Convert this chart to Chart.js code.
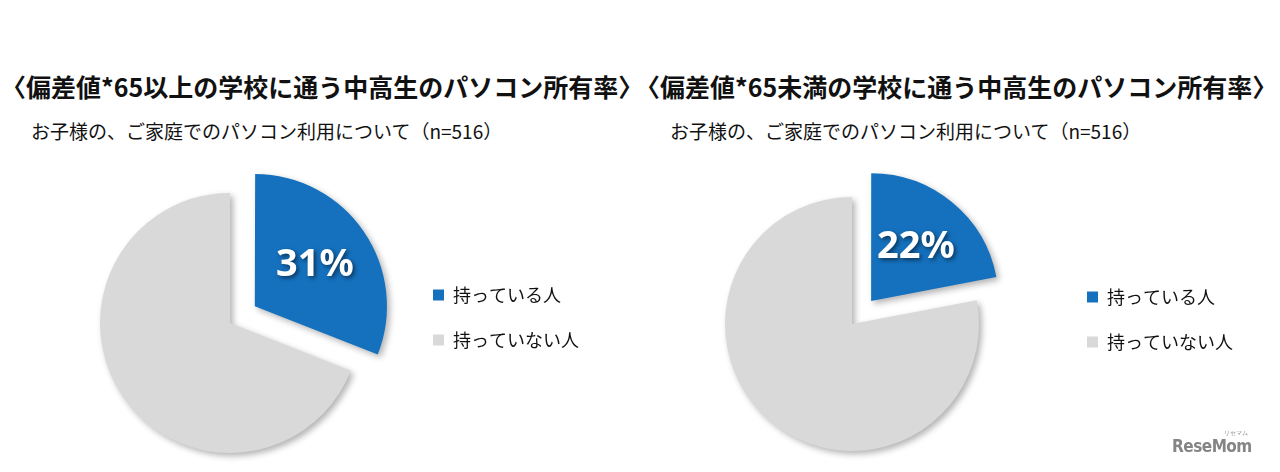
<!DOCTYPE html>
<html lang="ja">
<head>
<meta charset="utf-8">
<script src="https://cdn.jsdelivr.net/npm/chart.js@4"></script>
<style>
  html, body { margin: 0; padding: 0; background: #fff; }
  body { width: 1280px; height: 472px; position: relative; overflow: hidden; }
  .title {
    position: absolute; margin: 0; white-space: nowrap;
    font: bold 25px/30px "Noto Sans CJK JP", sans-serif; color: #111;
  }
  .sub {
    position: absolute; margin: 0; white-space: nowrap;
    font: 19px/24px "Noto Sans CJK JP", sans-serif; color: #111;
  }
  canvas { position: absolute; top: 150px; }
  .mark {
    position: absolute; left: 1172px; top: 436px;
    font: bold 17px "DejaVu Sans Condensed", sans-serif; color: #858585; letter-spacing: -0.5px;
  }
  .mark small { position: absolute; right: 4px; top: -7px; font-size: 6px; font-weight: normal; letter-spacing: 0; }
</style>
</head>
<body>
<h2 class="title" style="left:1px; top:71px">〈偏差値*65以上の学校に通う中高生のパソコン所有率〉</h2>
<p class="sub" style="left:31px; top:119px">お子様の、ご家庭でのパソコン利用について（n=516）</p>
<h2 class="title" style="left:635px; top:71px">〈偏差値*65未満の学校に通う中高生のパソコン所有率〉</h2>
<p class="sub" style="left:670px; top:119px">お子様の、ご家庭でのパソコン利用について（n=516）</p>

<canvas id="pcHigh" width="640" height="322" style="left:0"></canvas>
<canvas id="pcLow" width="640" height="322" style="left:640px"></canvas>

<div class="mark">ReseMom<small>リセマム</small></div>

<script>
const categories = ['持っている人', '持っていない人'];
const highShares = [31, 69];   // 偏差値65以上
const lowShares = [22, 78];    // 偏差値65未満
const sliceColors = ['#1571BE', '#D9D9D9'];

const legendFont = { family: '"Noto Sans CJK JP", sans-serif', size: 18 };
const legendBox = 11;
const legendGap = 27;

// soft drop shadow under the slices
const sliceShadow = {
    id: 'sliceShadow',
    beforeDatasetsDraw(chart) {
        const ctx = chart.ctx;
        ctx.save();
        ctx.shadowColor = 'rgba(0, 0, 0, 0.3)';
        ctx.shadowBlur = 6;
        ctx.shadowOffsetX = 3;
        ctx.shadowOffsetY = 3;
    },
    afterDatasetsDraw(chart) {
        chart.ctx.restore();
    }
};

// big white percentage on the pulled-out slice
const percentLabel = {
    id: 'percentLabel',
    afterDatasetsDraw(chart) {
        const ctx = chart.ctx;
        const arc = chart.getDatasetMeta(0).data[0];
        const value = chart.data.datasets[0].data[0];
        const mid = (arc.startAngle + arc.endAngle) / 2;
        const d = arc.outerRadius * 0.79;
        ctx.save();
        ctx.font = 'bold 38px "Noto Sans", sans-serif';
        ctx.fillStyle = '#fff';
        ctx.textAlign = 'center';
        ctx.textBaseline = 'middle';
        ctx.shadowColor = 'rgba(0, 0, 0, 0.55)';
        ctx.shadowBlur = 4;
        ctx.shadowOffsetX = 2;
        ctx.shadowOffsetY = 2;
        ctx.fillText(value + '%', arc.x + Math.cos(mid) * d, arc.y + Math.sin(mid) * d);
        ctx.restore();
    }
};

// right padding so the legend boxes start at x = itemLeft
function rightPad(width, itemLeft) {
    const ctx = document.createElement('canvas').getContext('2d');
    ctx.font = legendFont.size + 'px ' + legendFont.family;
    const textW = Math.max(...categories.map(c => ctx.measureText(c).width));
    return width - itemLeft - (legendBox + legendFont.size / 2 + textW) - 10;
}

function makePie(id, values, radius, padding) {
    return new Chart(document.getElementById(id), {
        type: 'pie',
        data: {
            labels: categories,
            datasets: [{
                data: values,
                backgroundColor: sliceColors,
                borderWidth: 0,
                offset: [120, 0],
                clip: false
            }]
        },
        options: {
            responsive: false,
            animation: false,
            events: [],
            radius: radius,
            layout: { padding },
            plugins: {
                legend: {
                    position: 'right',
                    align: 'start',
                    labels: {
                        boxWidth: legendBox,
                        boxHeight: legendBox,
                        padding: legendGap,
                        color: '#111',
                        font: legendFont
                    }
                },
                tooltip: { enabled: false }
            }
        },
        plugins: [sliceShadow, percentLabel]
    });
}

makePie('pcHigh', highShares, 130, { left: 54, right: rightPad(640, 433), top: 109, bottom: 85 });
makePie('pcLow', lowShares, 127, { left: 4, right: rightPad(640, 447), top: 111, bottom: 85 });
</script>
</body>
</html>
